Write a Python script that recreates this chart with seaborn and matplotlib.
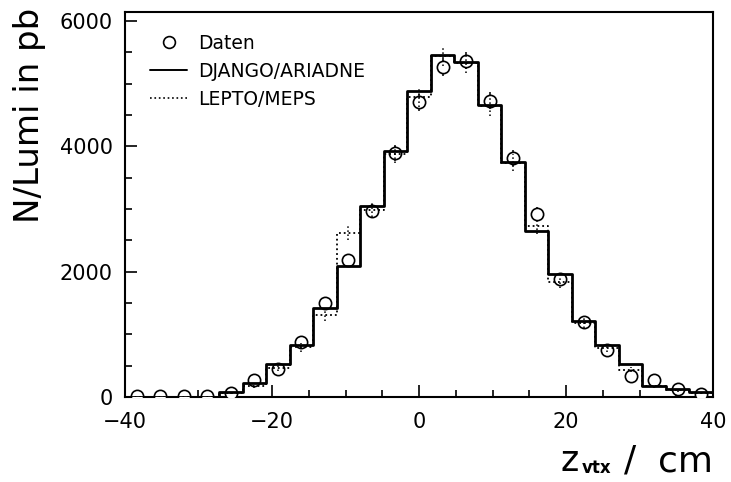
import matplotlib
matplotlib.use("Agg")
import matplotlib.pyplot as plt
from matplotlib.lines import Line2D
from matplotlib.ticker import MultipleLocator
import pandas as pd
import seaborn as sns

# z-vertex bins (3.2 cm wide between -40 and 40 cm)
z_centers = [-38.4, -35.2, -32.0, -28.8, -25.6, -22.4, -19.2, -16.0, -12.8,
             -9.6, -6.4, -3.2, 0.0, 3.2, 6.4, 9.6, 12.8, 16.0, 19.2, 22.4,
             25.6, 28.8, 32.0, 35.2, 38.4]

# measured distribution (N/Lumi in pb) and its uncertainties
data_values = [10, 10, 10, 10, 60, 279, 445, 873, 1501, 2180, 2965, 3891,
               4704, 5262, 5368, 4725, 3812, 2919, 1884, 1192, 757, 332, 279,
               120, 40]
data_errors = [10, 10, 10, 10, 20, 40, 50, 70, 90, 100, 115, 125, 135, 140,
               140, 135, 125, 110, 90, 70, 55, 40, 35, 25, 15]

# DJANGO/ARIADNE prediction
django_values = [0, 0, 0, 0, 77, 226, 534, 826, 1421, 2085, 3041, 3928, 4890,
                 5458, 5352, 4661, 3758, 2642, 1968, 1208, 837, 534, 183, 130,
                 77]

# LEPTO/MEPS prediction and its statistical uncertainties
lepto_values = [0, 0, 0, 0, 60, 183, 465, 794, 1315, 2617, 2988, 3870, 4784,
                5440, 5325, 4640, 3740, 2722, 1840, 1180, 784, 438, 170, 108,
                60]
lepto_errors = [0, 0, 0, 5, 20, 35, 55, 70, 95, 110, 120, 135, 150, 160, 160,
                150, 135, 115, 95, 75, 60, 45, 28, 22, 18]

x_range = (-40, 40)
y_top = 6144
n_bins = 25

sns.set_theme(style="ticks")
plt.rcParams["font.family"] = ["DejaVu Sans"]
plt.rcParams["text.color"] = "black"
plt.rcParams["axes.labelcolor"] = "black"

df = pd.DataFrame({
    "z": z_centers,
    "data": data_values,
    "data_err": data_errors,
    "django": django_values,
    "lepto": lepto_values,
    "lepto_err": lepto_errors,
})

fig = plt.figure(figsize=(7.31, 4.82), dpi=100)
ax = fig.add_axes([125 / 731, 1 - 397 / 482, 588 / 731, 385 / 482])

# measurement: error bars, then open circles
ax.vlines(df["z"], df["data"] - df["data_err"], df["data"] + df["data_err"],
          colors="black", linewidth=1.1, zorder=2)
sns.scatterplot(data=df, x="z", y="data", marker="o", s=78,
                facecolor="white", edgecolor="black", linewidth=1.2,
                zorder=3, ax=ax, legend=False)

# Monte Carlo histograms
sns.histplot(data=df, x="z", weights="lepto", bins=n_bins, binrange=x_range,
             element="step", fill=False, color="black", linestyle=":",
             linewidth=1.3, zorder=4, ax=ax)
ax.vlines(df["z"], df["lepto"] - df["lepto_err"], df["lepto"] + df["lepto_err"],
          colors="black", linewidth=1.1, linestyles=":", zorder=4)
sns.histplot(data=df, x="z", weights="django", bins=n_bins, binrange=x_range,
             element="step", fill=False, color="black", linestyle="-",
             linewidth=2.0, zorder=5, ax=ax)

ax.set_xlim(*x_range)
ax.set_ylim(0, y_top)
ax.set_xlabel("")
ax.set_ylabel("")

ax.xaxis.set_major_locator(MultipleLocator(20))
ax.xaxis.set_minor_locator(MultipleLocator(5))
ax.yaxis.set_major_locator(MultipleLocator(2000))
ax.yaxis.set_minor_locator(MultipleLocator(500))
ax.tick_params(which="both", direction="in", top=False, right=False,
               color="black", width=1.2, labelsize=15, labelcolor="black")
ax.tick_params(which="major", length=8.5)
ax.tick_params(which="minor", length=5)
ax.tick_params(axis="x", which="major", pad=11)
ax.tick_params(axis="y", which="major", pad=9)
for sp in ax.spines.values():
    sp.set_visible(True)
    sp.set_color("black")
    sp.set_linewidth(1.5)

# legend
handles = [
    Line2D([], [], linestyle="none", marker="o", markersize=8.5,
           markerfacecolor="white", markeredgecolor="black", markeredgewidth=1.2),
    Line2D([], [], color="black", linewidth=1.4, linestyle="-"),
    Line2D([], [], color="black", linewidth=1.2, linestyle=":"),
]
labels = ["Daten", "DJANGO/ARIADNE", "LEPTO/MEPS"]
leg = ax.legend(handles, labels, loc="upper left", bbox_to_anchor=(0.02, 0.977),
                frameon=False, fontsize=13.5, handlelength=2.0,
                handletextpad=0.55, labelspacing=0.48, borderpad=0.2)
for t in leg.get_texts():
    t.set_color("black")

# axis titles
fig.text(30 / 731, 1 - 8 / 482, "N/Lumi in pb", rotation=90, ha="center",
         va="top", fontsize=24.5, color="black")
base_y = 1 - 471 / 482
fig.text(561 / 731, base_y, "z", ha="left", va="baseline", fontsize=25,
         color="black")
fig.text(582 / 731, base_y - 2 / 482, "vtx", ha="left", va="baseline",
         fontsize=12, fontweight="bold", color="black")
fig.text(624 / 731, base_y, "/", ha="left", va="baseline", fontsize=26,
         color="black")
fig.text(713 / 731, base_y, "cm", ha="right", va="baseline", fontsize=26,
         color="black")

fig.savefig("out.png", dpi=100)
